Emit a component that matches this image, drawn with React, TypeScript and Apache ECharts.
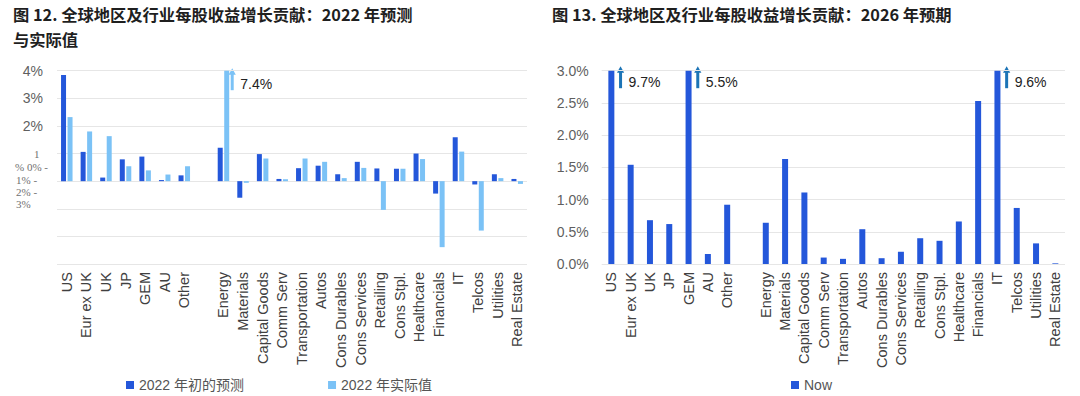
import React, { useEffect, useRef } from "react";
import * as echarts from "echarts";

const categories = [
  "US", "Eur ex UK", "UK", "JP", "GEM", "AU", "Other", "",
  "Energy", "Materials", "Capital Goods", "Comm Serv", "Transportation", "Autos",
  "Cons Durables", "Cons Services", "Retailing", "Cons Stpl.", "Healthcare",
  "Financials", "IT", "Telcos", "Utilities", "Real Estate",
];

// Fig 12: 2022 forecast vs actual (%)
const forecast2022 = [3.84, 1.06, 0.13, 0.79, 0.89, 0.04, 0.21, null, 1.21, -0.6, 0.98, 0.08, 0.47, 0.56, 0.25, 0.7, 0.46, 0.45, 1.0, -0.45, 1.59, -0.12, 0.25, 0.08];
const actual2022 = [2.32, 1.8, 1.63, 0.54, 0.39, 0.24, 0.54, null, 7.4, -0.06, 0.82, 0.07, 0.82, 0.7, 0.11, 0.48, -1.04, 0.45, 0.8, -2.39, 1.07, -1.79, 0.11, -0.1];
// Fig 13: 2026 expected (%)
const now2026 = [9.7, 1.54, 0.68, 0.62, 5.5, 0.155, 0.92, null, 0.64, 1.63, 1.11, 0.1, 0.08, 0.54, 0.09, 0.19, 0.4, 0.36, 0.66, 2.53, 9.6, 0.87, 0.32, 0.01];

const leftTicks = { min: -3, max: 4, interval: 1 };
const rightTicks = { min: 0, max: 3, interval: 0.5 };
const leftShownTicks = ["4%", "3%", "2%"];
const leftGarbledLabels = ["1", "% 0% -", "1% -", "2% -", "3%"];

const titleLeft1 = "图 12. 全球地区及行业每股收益增长贡献：2022 年预测";
const titleLeft2 = "与实际值";
const titleRight = "图 13. 全球地区及行业每股收益增长贡献：2026 年预期";

const DARK = "#2457da";
const LIGHT = "#7bc2f6";
const ARROW_RIGHT = "#1c74b6";

export default function App() {
  const ref = useRef<HTMLDivElement>(null);

  useEffect(() => {
    document.body.style.margin = "0";
    const chart = echarts.init(ref.current!, null, { renderer: "svg" });

    const catFont = { fontSize: 14.5, color: "#404040", fontFamily: "Liberation Sans, Arial, sans-serif" };
    const garbledPos = [
      { x: 34, y: 154 },
      { x: 15, y: 167 },
      { x: 16, y: 180 },
      { x: 16, y: 192 },
      { x: 16, y: 204 },
    ];

    const staticGraphics: any[] = [
      {
        id: "t1", type: "text", left: 13, top: 6,
        style: { text: titleLeft1, font: 'bold 16.3px "Noto Sans CJK SC", sans-serif', fill: "#1f1f1f" },
      },
      {
        id: "t2", type: "text", left: 13, top: 31,
        style: { text: titleLeft2, font: 'bold 16.3px "Noto Sans CJK SC", sans-serif', fill: "#1f1f1f" },
      },
      {
        id: "t3", type: "text", left: 552, top: 6,
        style: { text: titleRight, font: 'bold 16.3px "Noto Sans CJK SC", sans-serif', fill: "#1f1f1f" },
      },
      ...leftGarbledLabels.map((t, i) => ({
        id: "g" + i, type: "text", x: garbledPos[i].x, y: garbledPos[i].y,
        style: {
          text: t, font: '11px "Liberation Serif", "DejaVu Serif", serif', fill: "#707070",
          align: "left", verticalAlign: "middle",
        },
      })),
    ];

    const option: any = {
      animation: false,
      grid: [
        { left: 57, top: 70.7, width: 470, height: 193.3 },
        { left: 601.7, top: 70.7, width: 463.3, height: 193.3 },
      ],
      legend: [
        {
          data: ["2022 年初的预测", "2022 年实际值"], left: 121, top: 373,
          icon: "rect", itemWidth: 8, itemHeight: 8, itemGap: 84,
          textStyle: { fontSize: 14, color: "#555", fontFamily: "Liberation Sans, 'Noto Sans CJK SC', sans-serif" },
        },
        {
          data: ["Now"], left: 786, top: 373,
          icon: "rect", itemWidth: 8, itemHeight: 8,
          textStyle: { fontSize: 14, color: "#555", fontFamily: "Liberation Sans, Arial, sans-serif" },
        },
      ],
      xAxis: [
        {
          type: "category", gridIndex: 0, data: categories, position: "bottom",
          axisLine: { show: false, onZero: false }, axisTick: { show: false },
          axisLabel: { rotate: 90, interval: 0, margin: 8, ...catFont },
        },
        {
          type: "category", gridIndex: 1, data: categories,
          axisLine: { show: false, onZero: false }, axisTick: { show: false },
          axisLabel: { rotate: 90, interval: 0, margin: 8, ...catFont },
        },
      ],
      yAxis: [
        {
          type: "value", gridIndex: 0, ...leftTicks,
          axisLine: { show: false }, axisTick: { show: false },
          splitLine: { lineStyle: { color: "#e6e6e6", width: 1 } },
          axisLabel: {
            margin: 14, fontSize: 14, color: "#5f5f5f", fontFamily: "Liberation Sans, Arial, sans-serif",
            formatter: (v: number) => {
              const s = v + "%";
              return leftShownTicks.includes(s) ? s : "";
            },
          },
        },
        {
          type: "value", gridIndex: 1, ...rightTicks,
          axisLine: { show: false }, axisTick: { show: false },
          splitLine: { lineStyle: { color: "#e6e6e6", width: 1 } },
          axisLabel: {
            margin: 13, fontSize: 14, color: "#5f5f5f", fontFamily: "Liberation Sans, Arial, sans-serif",
            formatter: (v: number) => v.toFixed(1) + "%",
          },
        },
      ],
      series: [
        {
          name: "2022 年初的预测", type: "bar", xAxisIndex: 0, yAxisIndex: 0,
          data: forecast2022, barWidth: 5, barGap: "30%", itemStyle: { color: DARK },
        },
        {
          name: "2022 年实际值", type: "bar", xAxisIndex: 0, yAxisIndex: 0,
          data: actual2022, barWidth: 5, barGap: "30%", itemStyle: { color: LIGHT },
        },
        {
          name: "Now", type: "bar", xAxisIndex: 1, yAxisIndex: 1,
          data: now2026, barWidth: 6, itemStyle: { color: DARK },
        },
      ],
      graphic: staticGraphics,
    };
    chart.setOption(option);

    // Arrows and labels for bars beyond axis max
    const dyn: any[] = [];
    const addArrow = (id: string, x: number, yTop: number, color: string, label: string) => {
      dyn.push({
        id: id + "s", type: "line",
        shape: { x1: x, y1: yTop + 21, x2: x, y2: yTop + 4 },
        style: { stroke: color, lineWidth: 3 },
      });
      dyn.push({
        id: id + "h", type: "polygon",
        shape: { points: [[x - 3.6, yTop + 5.5], [x + 3.6, yTop + 5.5], [x, yTop - 1]] },
        style: { fill: color },
      });
      dyn.push({
        id: id + "l", type: "text", x: x + 8, y: yTop + 14.5,
        style: {
          text: label, font: '14px "Liberation Sans", Arial, sans-serif', fill: "#222",
          verticalAlign: "middle", align: "left",
        },
      });
    };
    actual2022.forEach((v, i) => {
      if (v != null && v > leftTicks.max) {
        const p = chart.convertToPixel({ xAxisIndex: 0, yAxisIndex: 0 }, [i, leftTicks.max]) as number[];
        addArrow("la" + i, p[0] + 3.25 + 5.5, p[1] - 1.5, LIGHT, v.toFixed(1) + "%");
      }
    });
    now2026.forEach((v, i) => {
      if (v != null && v > rightTicks.max) {
        const p = chart.convertToPixel({ xAxisIndex: 1, yAxisIndex: 1 }, [i, rightTicks.max]) as number[];
        addArrow("ra" + i, p[0] + 9.2, p[1] - 3.5, ARROW_RIGHT, v.toFixed(1) + "%");
      }
    });
    chart.setOption({ graphic: [...staticGraphics, ...dyn] });

    return () => chart.dispose();
  }, []);

  return <div ref={ref} style={{ width: 1080, height: 396 }} />;
}
